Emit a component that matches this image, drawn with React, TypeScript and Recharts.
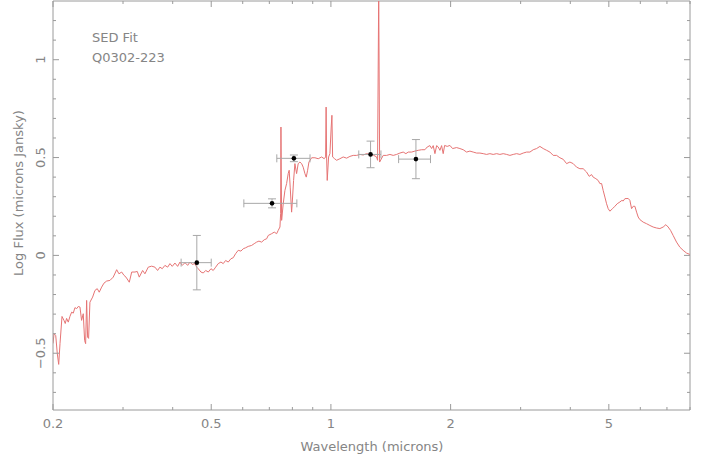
import {
  ComposedChart,
  Line,
  Scatter,
  ErrorBar,
  XAxis,
  YAxis,
  ReferenceLine,
} from "recharts";

// model spectrum: [wavelength (microns), log flux]
const spectrum: [number, number][] = [
  [0.2, -0.45], [0.2012, -0.4], [0.2032, -0.41], [0.205, -0.5], [0.2067, -0.557],
  [0.2083, -0.45], [0.2107, -0.312], [0.2131, -0.332], [0.2147, -0.348], [0.2164, -0.322],
  [0.2185, -0.341], [0.2206, -0.312], [0.2228, -0.29], [0.2249, -0.295], [0.2271, -0.267],
  [0.2294, -0.272], [0.2315, -0.261], [0.2338, -0.264], [0.236, -0.332], [0.2383, -0.298],
  [0.2402, -0.435], [0.2416, -0.451], [0.243, -0.23], [0.2444, -0.418], [0.2458, -0.424],
  [0.2477, -0.239], [0.2516, -0.213], [0.255, -0.179], [0.2584, -0.17], [0.2614, -0.188],
  [0.2651, -0.162], [0.2686, -0.142], [0.2729, -0.131], [0.2781, -0.128], [0.2835, -0.111],
  [0.2892, -0.073], [0.293, -0.094], [0.2977, -0.085], [0.3017, -0.102], [0.3052, -0.111],
  [0.3111, -0.137], [0.3155, -0.085], [0.3215, -0.085], [0.3258, -0.082], [0.3296, -0.111],
  [0.3361, -0.077], [0.3406, -0.094], [0.3472, -0.06], [0.3541, -0.055], [0.3609, -0.06],
  [0.3665, -0.077], [0.3715, -0.06], [0.3765, -0.068], [0.3824, -0.051], [0.3885, -0.06],
  [0.3937, -0.042], [0.399, -0.056], [0.4052, -0.039], [0.4116, -0.056], [0.4172, -0.034],
  [0.4228, -0.051], [0.4295, -0.037], [0.4362, -0.051], [0.4421, -0.034], [0.4479, -0.046],
  [0.455, -0.042], [0.4596, -0.06], [0.4638, -0.068], [0.4711, -0.085], [0.4775, -0.09],
  [0.4842, -0.077], [0.4916, -0.085], [0.4993, -0.068], [0.5058, -0.077], [0.513, -0.06],
  [0.5207, -0.042], [0.5289, -0.034], [0.536, -0.042], [0.5435, -0.026], [0.5518, -0.034],
  [0.5605, -0.017], [0.5679, -0.012], [0.5759, 0.009], [0.5846, 0.026], [0.5938, 0.022],
  [0.6018, 0.034], [0.6102, 0.039], [0.6195, 0.046], [0.6318, 0.051], [0.6413, 0.06],
  [0.6503, 0.068], [0.6591, 0.073], [0.6694, 0.068], [0.6797, 0.08], [0.6892, 0.085],
  [0.6956, 0.102], [0.7095, 0.111], [0.7202, 0.119], [0.7303, 0.111], [0.7371, 0.128],
  [0.7444, 0.145], [0.7473, 0.213], [0.7487, 0.656], [0.7516, 0.179], [0.7587, 0.264],
  [0.7661, 0.332], [0.7737, 0.367], [0.7808, 0.418], [0.7853, 0.435], [0.7899, 0.349],
  [0.7964, 0.221], [0.7991, 0.264], [0.8056, 0.383], [0.8118, 0.469], [0.8198, 0.418],
  [0.8274, 0.469], [0.8357, 0.477], [0.8439, 0.469], [0.8517, 0.451], [0.8602, 0.418],
  [0.8668, 0.4], [0.8738, 0.435], [0.8805, 0.477], [0.8944, 0.499], [0.9116, 0.499],
  [0.9292, 0.494], [0.9476, 0.503], [0.962, 0.494], [0.9698, 0.503], [0.9726, 0.758],
  [0.9754, 0.503], [0.9788, 0.383], [0.9867, 0.503], [0.9942, 0.52], [1.0017, 0.656],
  [1.0058, 0.716], [1.0099, 0.503], [1.0216, 0.494], [1.0335, 0.486], [1.0534, 0.494],
  [1.0737, 0.503], [1.0952, 0.497], [1.1164, 0.506], [1.1379, 0.511], [1.1604, 0.511],
  [1.1828, 0.516], [1.2056, 0.513], [1.2296, 0.52], [1.2533, 0.516], [1.2775, 0.513],
  [1.3028, 0.503], [1.3103, 0.486], [1.3188, 1.35], [1.3258, 0.477], [1.3536, 0.511],
  [1.3806, 0.511], [1.4073, 0.516], [1.4345, 0.511], [1.4628, 0.516], [1.4911, 0.523],
  [1.5199, 0.528], [1.5439, 0.52], [1.5646, 0.528], [1.5956, 0.528], [1.6264, 0.533],
  [1.6577, 0.537], [1.6909, 0.54], [1.7235, 0.54], [1.7467, 0.554], [1.774, 0.561],
  [1.7917, 0.546], [1.8083, 0.561], [1.8263, 0.52], [1.8444, 0.561], [1.8615, 0.554],
  [1.88, 0.537], [1.8983, 0.561], [1.9159, 0.52], [1.9318, 0.562], [1.961, 0.557],
  [1.992, 0.562], [2.023, 0.546], [2.0701, 0.551], [2.1106, 0.546], [2.1513, 0.54],
  [2.1939, 0.528], [2.2363, 0.533], [2.2795, 0.528], [2.325, 0.523], [2.3699, 0.523],
  [2.4155, 0.52], [2.4633, 0.516], [2.5108, 0.52], [2.5593, 0.516], [2.6105, 0.52],
  [2.6607, 0.516], [2.7121, 0.52], [2.7663, 0.516], [2.8196, 0.511], [2.874, 0.516],
  [2.9309, 0.52], [2.9874, 0.516], [3.0451, 0.523], [3.1058, 0.528], [3.1658, 0.528],
  [3.2269, 0.54], [3.2908, 0.546], [3.3543, 0.557], [3.419, 0.546], [3.4873, 0.537],
  [3.5546, 0.528], [3.6232, 0.511], [3.6949, 0.511], [3.7662, 0.499], [3.8389, 0.491],
  [3.9149, 0.469], [3.9905, 0.477], [4.0676, 0.469], [4.148, 0.451], [4.228, 0.443],
  [4.3096, 0.443], [4.3948, 0.426], [4.4621, 0.404], [4.5243, 0.413], [4.5662, 0.4],
  [4.6383, 0.392], [4.7006, 0.383], [4.7474, 0.367], [4.7946, 0.367], [4.839, 0.332],
  [4.8872, 0.298], [4.9347, 0.264], [4.9804, 0.239], [5.03, 0.226], [5.1094, 0.239],
  [5.1781, 0.251], [5.2477, 0.264], [5.3306, 0.273], [5.3923, 0.281], [5.4334, 0.278],
  [5.4875, 0.29], [5.5934, 0.291], [5.6478, 0.281], [5.704, 0.239], [5.7568, 0.251],
  [5.8141, 0.251], [5.872, 0.221], [5.9264, 0.196], [5.9841, 0.183], [6.1004, 0.17],
  [6.2211, 0.162], [6.3413, 0.153], [6.4638, 0.145], [6.5917, 0.14], [6.7191, 0.137],
  [6.8489, 0.145], [6.9558, 0.157], [7.0492, 0.145], [7.1474, 0.128], [7.2562, 0.102],
  [7.3998, 0.068], [7.5424, 0.042], [7.6879, 0.026], [7.8412, 0.012], [7.993, 0.005],
];

// photometry
const photWavelength = [0.46, 0.711, 0.807, 1.258, 1.636];
const photFlux = [-0.037, 0.266, 0.496, 0.516, 0.492];
const photWavelengthErr: [number, number][] = [
  [0.04, 0.04], [0.107, 0.11], [0.076, 0.079], [0.083, 0.078], [0.156, 0.144],
];
const photFluxErr: [number, number][] = [
  [0.139, 0.139], [0.023, 0.023], [0.017, 0.017], [0.068, 0.068], [0.1, 0.1],
];

const xTicks = [0.2, 0.3, 0.4, 0.5, 0.6, 0.7, 0.8, 0.9, 1, 2, 3, 4, 5, 6, 7, 8];
const xMajorTicks = [0.2, 0.5, 1, 2, 5];
const yTicks = [
  -0.7, -0.6, -0.5, -0.4, -0.3, -0.2, -0.1, 0, 0.1, 0.2, 0.3, 0.4, 0.5, 0.6, 0.7, 0.8,
  0.9, 1, 1.1, 1.2,
];
const yMajorTicks = [-0.5, 0, 0.5, 1];
const yTickLabels = ["\u22120.5", "0", "0.5", "1"];

const xDomain = [0.2, 8];
const yDomain = [-0.79, 1.3];

const chartWidth = 706;
const chartHeight = 461;
const plotLeft = 53;
const plotRight = 690;
const plotTop = 1;
const plotBottom = 410;
const plotWidth = plotRight - plotLeft;
const plotHeight = plotBottom - plotTop;

const axisColor = "#9a9a9a";
const textColor = "#858585";
const lineColor = "#e67474";
const fontFamily = "'DejaVu Sans', sans-serif";

const spectrumData = spectrum.map(([wl, f]) => ({ wl, f }));
const photData = photWavelength.map((wl, i) => ({
  wl,
  f: photFlux[i],
  ex: photWavelengthErr[i],
  ey: photFluxErr[i],
}));

function XTick(props: any) {
  const { x, y, payload } = props;
  const major = xMajorTicks.includes(payload.value);
  const len = major ? 6 : 3;
  return (
    <g>
      <line x1={x} x2={x} y1={y} y2={y - len} stroke={axisColor} />
      <line x1={x} x2={x} y1={y - plotHeight} y2={y - plotHeight + len} stroke={axisColor} />
      {major && (
        <text
          x={x}
          y={y + 18}
          textAnchor="middle"
          fill={textColor}
          fontSize={13}
          fontFamily={fontFamily}
        >
          {String(payload.value)}
        </text>
      )}
    </g>
  );
}

function YTick(props: any) {
  const { x, y, payload } = props;
  const idx = yMajorTicks.indexOf(payload.value);
  const len = idx >= 0 ? 6 : 3;
  const tx = x - 13;
  return (
    <g>
      <line x1={x} x2={x + len} y1={y} y2={y} stroke={axisColor} />
      <line x1={x + plotWidth} x2={x + plotWidth - len} y1={y} y2={y} stroke={axisColor} />
      {idx >= 0 && (
        <text
          x={tx}
          y={y}
          dy="0.35em"
          transform={`rotate(-90, ${tx}, ${y})`}
          textAnchor="middle"
          fill={textColor}
          fontSize={13}
          fontFamily={fontFamily}
        >
          {yTickLabels[idx]}
        </text>
      )}
    </g>
  );
}

function PhotDot(props: any) {
  const { cx, cy } = props;
  return <circle cx={cx} cy={cy} r={2.3} fill="#000" />;
}

export default function App() {
  return (
    <div style={{ position: "absolute", left: 0, top: 0, background: "#fff" }}>
      <ComposedChart
        width={chartWidth}
        height={chartHeight}
        margin={{ top: plotTop, right: chartWidth - plotRight, bottom: 0, left: 0 }}
      >
        <XAxis
          dataKey="wl"
          type="number"
          scale="log"
          domain={xDomain}
          ticks={xTicks}
          interval={0}
          height={chartHeight - plotBottom}
          tickSize={0}
          tickMargin={0}
          tickLine={false}
          axisLine={{ stroke: axisColor }}
          tick={<XTick />}
          allowDataOverflow
        />
        <YAxis
          type="number"
          domain={yDomain}
          ticks={yTicks}
          interval={0}
          width={plotLeft}
          tickSize={0}
          tickMargin={0}
          tickLine={false}
          axisLine={{ stroke: axisColor }}
          tick={<YTick />}
          allowDataOverflow
        />
        <ReferenceLine y={1.3} stroke={axisColor} />
        <ReferenceLine x={8} stroke={axisColor} />

        <Line
          data={spectrumData}
          dataKey="f"
          type="linear"
          stroke={lineColor}
          strokeWidth={1}
          dot={false}
          activeDot={false}
          isAnimationActive={false}
        />

        <Scatter data={photData} dataKey="f" shape={<PhotDot />} isAnimationActive={false}>
          <ErrorBar
            dataKey="ey"
            direction="y"
            width={4}
            stroke="#a8a8a8"
            strokeWidth={1}
            isAnimationActive={false}
          />
          <ErrorBar
            dataKey="ex"
            direction="x"
            width={4}
            stroke="#a8a8a8"
            strokeWidth={1}
            isAnimationActive={false}
          />
        </Scatter>

        <text x={92} y={42} fill={textColor} fontSize={13} fontFamily={fontFamily}>
          SED Fit
        </text>
        <text x={92} y={62} fill={textColor} fontSize={13} fontFamily={fontFamily}>
          Q0302-223
        </text>
        <text
          x={372}
          y={451}
          textAnchor="middle"
          fill={textColor}
          fontSize={13}
          fontFamily={fontFamily}
        >
          Wavelength (microns)
        </text>
        <text
          x={18}
          y={193}
          dy="0.35em"
          transform="rotate(-90, 18, 193)"
          textAnchor="middle"
          fill={textColor}
          fontSize={13}
          fontFamily={fontFamily}
        >
          Log Flux (microns Jansky)
        </text>
      </ComposedChart>
    </div>
  );
}
